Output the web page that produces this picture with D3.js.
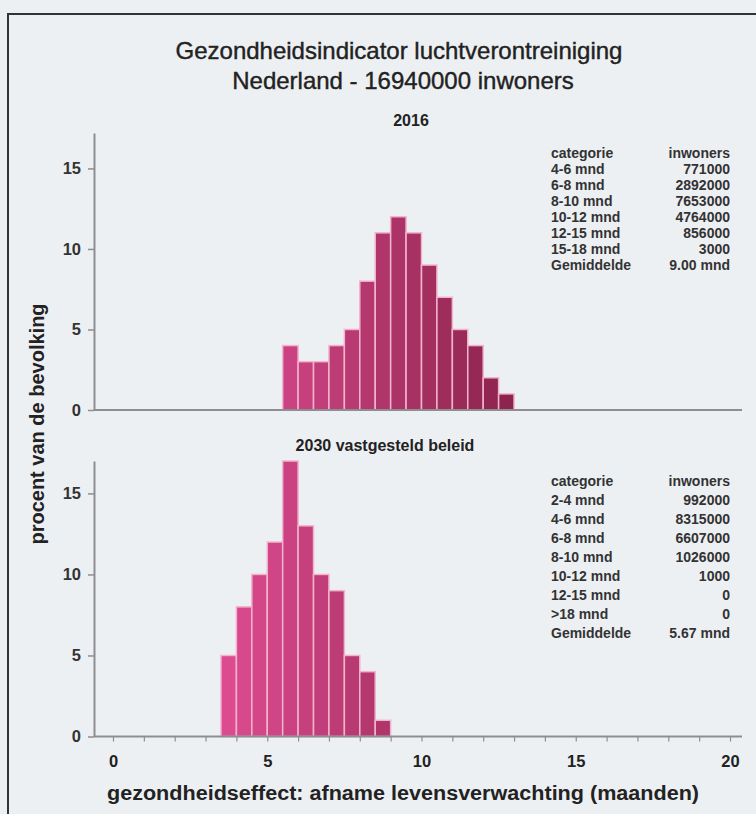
<!DOCTYPE html>
<html>
<head>
<meta charset="utf-8">
<script src="https://cdn.jsdelivr.net/npm/d3@7"></script>
<style>
  html, body { margin: 0; padding: 0; background: #edf0f3; }
  svg { display: block; font-family: "Liberation Sans", Arial, sans-serif; }
</style>
</head>
<body>
<div id="chart"></div>
<script>
// Data (percent of population per half-month bin)
const bins2016 = [5.5, 6, 6.5, 7, 7.5, 8, 8.5, 9, 9.5, 10, 10.5, 11, 11.5, 12, 12.5];
const values2016 = [4, 3, 3, 4, 5, 8, 11, 12, 11, 9, 7, 5, 4, 2, 1];

const bins2030 = [3.5, 4, 4.5, 5, 5.5, 6, 6.5, 7, 7.5, 8, 8.5];
const values2030 = [5, 8, 10, 12, 17, 13, 10, 9, 5, 4, 1];

const binWidth = 0.5;

const cat2016 = ['4-6 mnd', '6-8 mnd', '8-10 mnd', '10-12 mnd', '12-15 mnd', '15-18 mnd'];
const inw2016 = ['771000', '2892000', '7653000', '4764000', '856000', '3000'];
const mean2016 = '9.00 mnd';

const cat2030 = ['2-4 mnd', '4-6 mnd', '6-8 mnd', '8-10 mnd', '10-12 mnd', '12-15 mnd', '>18 mnd'];
const inw2030 = ['992000', '8315000', '6607000', '1026000', '1000', '0', '0'];
const mean2030 = '5.67 mnd';

const xTicks = [0, 5, 10, 15, 20];
const yTicks = [0, 5, 10, 15];

const width = 756, height = 814;

const svg = d3.select('#chart').append('svg')
    .attr('width', width)
    .attr('height', height);

// frame
svg.append('path')
    .attr('d', `M8,${height} L8,14 L${width},14`)
    .attr('fill', 'none')
    .attr('stroke', '#333')
    .attr('stroke-width', 2);

// shared x scale
const x = d3.scaleLinear().domain([0, 20]).range([113, 730]);
const axisX = 94, axisRight = 742;

// bar colour shifts from pink to maroon with the effect size
const colour = d3.scaleLinear()
    .domain([3.5, 13])
    .range(['#dc4b90', '#882249'])
    .interpolate(d3.interpolateRgb);

// titles
svg.append('text')
    .attr('x', 399).attr('y', 59)
    .attr('text-anchor', 'middle')
    .attr('font-size', 24)
    .attr('fill', '#222')
    .attr('stroke', '#222').attr('stroke-width', 0.4)
    .text('Gezondheidsindicator luchtverontreiniging');

svg.append('text')
    .attr('x', 403).attr('y', 89)
    .attr('text-anchor', 'middle')
    .attr('font-size', 24)
    .attr('fill', '#222')
    .attr('stroke', '#222').attr('stroke-width', 0.4)
    .text('Nederland - 16940000 inwoners');

function drawPanel(opts) {
    const y = d3.scaleLinear().domain([0, opts.yMax]).range([opts.base, opts.top]);
    const g = svg.append('g');

    g.append('text')
        .attr('x', opts.titleX).attr('y', opts.titleY)
        .attr('text-anchor', 'middle')
        .attr('font-size', 16)
        .attr('font-weight', 'bold')
        .attr('fill', '#222')
        .text(opts.title);

    // bars
    g.selectAll('.bar')
        .data(opts.bins.map((b, i) => ({ x0: b, v: opts.values[i] })))
        .enter()
        .append('rect')
        .attr('class', 'bar')
        .attr('x', d => x(d.x0))
        .attr('y', d => y(d.v))
        .attr('width', x(binWidth) - x(0))
        .attr('height', d => y(0) - y(d.v))
        .attr('fill', d => colour(d.x0))
        .attr('stroke', '#f2b3cd')
        .attr('stroke-width', 1.5);

    // baseline
    g.append('line')
        .attr('x1', axisX).attr('x2', axisRight)
        .attr('y1', y(0)).attr('y2', y(0))
        .attr('stroke', '#8d8d92')
        .attr('stroke-width', 2);

    // y axis
    const ya = g.append('g')
        .attr('transform', `translate(${axisX},0)`)
        .call(d3.axisLeft(y).tickValues(yTicks).tickSize(6).tickSizeOuter(0).tickPadding(7));
    ya.select('.domain').attr('stroke', '#8d8d92').attr('stroke-width', 2);
    ya.selectAll('.tick line').attr('stroke', '#8d8d92').attr('stroke-width', 1.5);
    ya.selectAll('.tick text')
        .attr('font-size', 16.5)
        .attr('font-weight', 'bold')
        .attr('fill', '#333')
        .attr('font-family', '"Liberation Sans", Arial, sans-serif');

    // legend
    const lg = g.append('g').attr('font-size', 14).attr('font-weight', 'bold').attr('fill', '#333');
    const rows = [['categorie', 'inwoners']]
        .concat(opts.cats.map((c, i) => [c, opts.inw[i]]))
        .concat([['Gemiddelde', opts.mean]]);
    rows.forEach((r, i) => {
        const yy = opts.legY + i * opts.legStep;
        lg.append('text').attr('x', 551).attr('y', yy).text(r[0]);
        lg.append('text').attr('x', 730).attr('y', yy).attr('text-anchor', 'end').text(r[1]);
    });

    return y;
}

drawPanel({
    title: '2016', titleX: 411, titleY: 126,
    bins: bins2016, values: values2016,
    base: 410, top: 133, yMax: 17.2,
    cats: cat2016, inw: inw2016, mean: mean2016,
    legY: 158, legStep: 16
});

const yBottom = drawPanel({
    title: '2030 vastgesteld beleid', titleX: 385, titleY: 451,
    bins: bins2030, values: values2030,
    base: 736.5, top: 461, yMax: 17,
    cats: cat2030, inw: inw2030, mean: mean2030,
    legY: 486, legStep: 19
});

// x axis (bottom panel only)
const xa = svg.append('g')
    .attr('transform', `translate(0,${yBottom(0)})`)
    .call(d3.axisBottom(x).ticks(20).tickSize(5).tickSizeOuter(0).tickPadding(14)
        .tickFormat(d => xTicks.includes(d) ? d : ''));
xa.select('.domain').remove();
xa.selectAll('.tick line').attr('stroke', '#8d8d92').attr('stroke-width', 1.2);
xa.selectAll('.tick text')
    .attr('font-size', 16.5)
    .attr('font-weight', 'bold')
    .attr('fill', '#222')
    .attr('font-family', '"Liberation Sans", Arial, sans-serif');

// axis titles
svg.append('text')
    .attr('x', 403).attr('y', 800)
    .attr('text-anchor', 'middle')
    .attr('font-size', 20)
    .attr('font-weight', 'bold')
    .attr('fill', '#222')
    .attr('textLength', 592)
    .attr('lengthAdjust', 'spacingAndGlyphs')
    .text('gezondheidseffect: afname levensverwachting (maanden)');

svg.append('text')
    .attr('transform', 'translate(44,424) rotate(-90)')
    .attr('text-anchor', 'middle')
    .attr('font-size', 20)
    .attr('font-weight', 'bold')
    .attr('fill', '#222')
    .text('procent van de bevolking');
</script>
</body>
</html>
